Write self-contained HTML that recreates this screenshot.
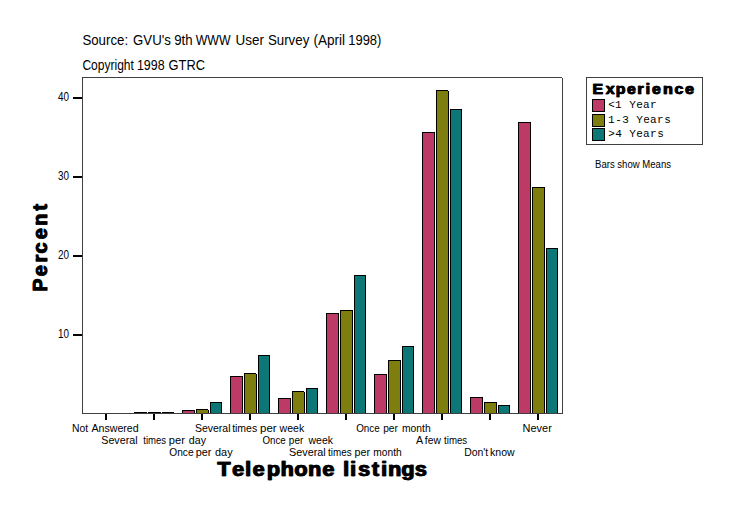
<!DOCTYPE html>
<html><head><meta charset="utf-8"><style>
html,body{margin:0;padding:0;background:#fff;}
svg{display:block;}
text{font-family:"Liberation Sans",sans-serif;fill:#000;}
.t{font-size:14px;}
.yl{font-size:12.5px;}
.xl{font-size:11px;}
.bt{font-family:"Liberation Sans",sans-serif;font-weight:bold;stroke:#000;stroke-width:0.9px;}
.mono{font-family:"Liberation Mono",monospace;font-size:11.5px;}
.ser{font-family:"Liberation Mono",monospace;font-size:11px;}
</style></head><body>
<svg width="736" height="516" viewBox="0 0 736 516" shape-rendering="crispEdges">
<rect width="736" height="516" fill="#fff"/>
<text x="82.40" y="45" class="t" textLength="45.71" lengthAdjust="spacingAndGlyphs">Source:</text><text x="133.03" y="45" class="t" textLength="37.84" lengthAdjust="spacingAndGlyphs">GVU&#39;s</text><text x="174.18" y="45" class="t" textLength="18.38" lengthAdjust="spacingAndGlyphs">9th</text><text x="195.75" y="45" class="t" textLength="34.80" lengthAdjust="spacingAndGlyphs">WWW</text><text x="235.56" y="45" class="t" textLength="28.46" lengthAdjust="spacingAndGlyphs">User</text><text x="267.90" y="45" class="t" textLength="41.43" lengthAdjust="spacingAndGlyphs">Survey</text><text x="313.46" y="45" class="t" textLength="31.54" lengthAdjust="spacingAndGlyphs">(April</text><text x="348.21" y="45" class="t" textLength="33.19" lengthAdjust="spacingAndGlyphs">1998)</text>
<text x="82.39" y="69.5" class="t" textLength="51.50" lengthAdjust="spacingAndGlyphs">Copyright</text><text x="136.95" y="69.5" class="t" textLength="27.69" lengthAdjust="spacingAndGlyphs">1998</text><text x="168.55" y="69.5" class="t" textLength="36.44" lengthAdjust="spacingAndGlyphs">GTRC</text>
<rect x="82" y="77" width="480" height="1" fill="#404040"/><rect x="82" y="77" width="1" height="337" fill="#404040"/><rect x="562" y="78" width="1" height="336" fill="#404040"/>
<rect x="134" y="412" width="13" height="2" fill="#000"/>
<rect x="148" y="412" width="13" height="2" fill="#000"/>
<rect x="162" y="412" width="12" height="2" fill="#000"/>
<rect x="182" y="410" width="13" height="4" fill="#000"/>
<rect x="183" y="411" width="11" height="2" fill="#bd3966"/>
<rect x="196" y="409" width="13" height="5" fill="#000"/>
<rect x="197" y="410" width="11" height="3" fill="#7e7e0f"/>
<rect x="208" y="409" width="1" height="1" fill="#fff"/>
<rect x="210" y="402" width="12" height="12" fill="#000"/>
<rect x="211" y="403" width="10" height="10" fill="#0c7776"/>
<rect x="230" y="376" width="13" height="38" fill="#000"/>
<rect x="231" y="377" width="11" height="36" fill="#bd3966"/>
<rect x="244" y="373" width="13" height="41" fill="#000"/>
<rect x="245" y="374" width="11" height="39" fill="#7e7e0f"/>
<rect x="256" y="373" width="1" height="1" fill="#fff"/>
<rect x="258" y="355" width="12" height="59" fill="#000"/>
<rect x="259" y="356" width="10" height="57" fill="#0c7776"/>
<rect x="278" y="398" width="13" height="16" fill="#000"/>
<rect x="279" y="399" width="11" height="14" fill="#bd3966"/>
<rect x="292" y="391" width="13" height="23" fill="#000"/>
<rect x="293" y="392" width="11" height="21" fill="#7e7e0f"/>
<rect x="304" y="391" width="1" height="1" fill="#fff"/>
<rect x="306" y="388" width="12" height="26" fill="#000"/>
<rect x="307" y="389" width="10" height="24" fill="#0c7776"/>
<rect x="326" y="313" width="13" height="101" fill="#000"/>
<rect x="327" y="314" width="11" height="99" fill="#bd3966"/>
<rect x="340" y="310" width="13" height="104" fill="#000"/>
<rect x="341" y="311" width="11" height="102" fill="#7e7e0f"/>
<rect x="354" y="275" width="12" height="139" fill="#000"/>
<rect x="355" y="276" width="10" height="137" fill="#0c7776"/>
<rect x="374" y="374" width="13" height="40" fill="#000"/>
<rect x="375" y="375" width="11" height="38" fill="#bd3966"/>
<rect x="388" y="360" width="13" height="54" fill="#000"/>
<rect x="389" y="361" width="11" height="52" fill="#7e7e0f"/>
<rect x="402" y="346" width="12" height="68" fill="#000"/>
<rect x="403" y="347" width="10" height="66" fill="#0c7776"/>
<rect x="422" y="132" width="13" height="282" fill="#000"/>
<rect x="423" y="133" width="11" height="280" fill="#bd3966"/>
<rect x="436" y="90" width="13" height="324" fill="#000"/>
<rect x="437" y="91" width="11" height="322" fill="#7e7e0f"/>
<rect x="448" y="90" width="1" height="1" fill="#fff"/>
<rect x="450" y="109" width="12" height="305" fill="#000"/>
<rect x="451" y="110" width="10" height="303" fill="#0c7776"/>
<rect x="470" y="397" width="13" height="17" fill="#000"/>
<rect x="471" y="398" width="11" height="15" fill="#bd3966"/>
<rect x="484" y="402" width="13" height="12" fill="#000"/>
<rect x="485" y="403" width="11" height="10" fill="#7e7e0f"/>
<rect x="498" y="405" width="12" height="9" fill="#000"/>
<rect x="499" y="406" width="10" height="7" fill="#0c7776"/>
<rect x="518" y="122" width="13" height="292" fill="#000"/>
<rect x="519" y="123" width="11" height="290" fill="#bd3966"/>
<rect x="532" y="187" width="13" height="227" fill="#000"/>
<rect x="533" y="188" width="11" height="225" fill="#7e7e0f"/>
<rect x="546" y="248" width="12" height="166" fill="#000"/>
<rect x="547" y="249" width="10" height="164" fill="#0c7776"/>
<rect x="82" y="413" width="481" height="1" fill="#404040"/>
<rect x="105" y="414" width="2" height="6" fill="#000"/>
<rect x="153" y="414" width="2" height="6" fill="#000"/>
<rect x="201" y="414" width="2" height="6" fill="#000"/>
<rect x="249" y="414" width="2" height="6" fill="#000"/>
<rect x="297" y="414" width="2" height="6" fill="#000"/>
<rect x="345" y="414" width="2" height="6" fill="#000"/>
<rect x="393" y="414" width="2" height="6" fill="#000"/>
<rect x="441" y="414" width="2" height="6" fill="#000"/>
<rect x="489" y="414" width="2" height="6" fill="#000"/>
<rect x="537" y="414" width="2" height="6" fill="#000"/>
<rect x="73" y="97" width="9" height="2" fill="#000"/>
<rect x="73" y="176" width="9" height="2" fill="#000"/>
<rect x="73" y="255" width="9" height="2" fill="#000"/>
<rect x="73" y="334" width="9" height="2" fill="#000"/>
<text x="58" y="101" class="yl" textLength="11" lengthAdjust="spacingAndGlyphs">40</text>
<text x="58" y="180" class="yl" textLength="11" lengthAdjust="spacingAndGlyphs">30</text>
<text x="58" y="259" class="yl" textLength="11" lengthAdjust="spacingAndGlyphs">20</text>
<text x="58" y="338" class="yl" textLength="11" lengthAdjust="spacingAndGlyphs">10</text>
<text x="72.05" y="432" class="xl" textLength="16.13" lengthAdjust="spacingAndGlyphs">Not</text><text x="91.38" y="432" class="xl" textLength="47.31" lengthAdjust="spacingAndGlyphs">Answered</text><text x="194.92" y="432" class="xl" textLength="35.58" lengthAdjust="spacingAndGlyphs">Several</text><text x="232.14" y="432" class="xl" textLength="25.04" lengthAdjust="spacingAndGlyphs">times</text><text x="260.01" y="432" class="xl" textLength="16.58" lengthAdjust="spacingAndGlyphs">per</text><text x="279.52" y="432" class="xl" textLength="24.67" lengthAdjust="spacingAndGlyphs">week</text><text x="356.23" y="432" class="xl" textLength="23.50" lengthAdjust="spacingAndGlyphs">Once</text><text x="383.14" y="432" class="xl" textLength="14.73" lengthAdjust="spacingAndGlyphs">per</text><text x="402.02" y="432" class="xl" textLength="28.65" lengthAdjust="spacingAndGlyphs">month</text><text x="522.60" y="432" class="xl" textLength="29.18" lengthAdjust="spacingAndGlyphs">Never</text><text x="101.32" y="444" class="xl" textLength="36.20" lengthAdjust="spacingAndGlyphs">Several</text><text x="143.26" y="444" class="xl" textLength="22.79" lengthAdjust="spacingAndGlyphs">times</text><text x="168.78" y="444" class="xl" textLength="16.10" lengthAdjust="spacingAndGlyphs">per</text><text x="188.85" y="444" class="xl" textLength="17.17" lengthAdjust="spacingAndGlyphs">day</text><text x="262.44" y="444" class="xl" textLength="23.19" lengthAdjust="spacingAndGlyphs">Once</text><text x="288.86" y="444" class="xl" textLength="14.41" lengthAdjust="spacingAndGlyphs">per</text><text x="308.52" y="444" class="xl" textLength="24.47" lengthAdjust="spacingAndGlyphs">week</text><text x="415.88" y="444" class="xl" textLength="7.14" lengthAdjust="spacingAndGlyphs">A</text><text x="424.85" y="444" class="xl" textLength="16.02" lengthAdjust="spacingAndGlyphs">few</text><text x="444.05" y="444" class="xl" textLength="23.10" lengthAdjust="spacingAndGlyphs">times</text><text x="169.32" y="456" class="xl" textLength="24.23" lengthAdjust="spacingAndGlyphs">Once</text><text x="195.70" y="456" class="xl" textLength="15.68" lengthAdjust="spacingAndGlyphs">per</text><text x="215.04" y="456" class="xl" textLength="17.58" lengthAdjust="spacingAndGlyphs">day</text><text x="289.11" y="456" class="xl" textLength="36.61" lengthAdjust="spacingAndGlyphs">Several</text><text x="328.05" y="456" class="xl" textLength="23.50" lengthAdjust="spacingAndGlyphs">times</text><text x="354.61" y="456" class="xl" textLength="15.57" lengthAdjust="spacingAndGlyphs">per</text><text x="373.32" y="456" class="xl" textLength="28.34" lengthAdjust="spacingAndGlyphs">month</text><text x="464.14" y="456" class="xl" textLength="24.03" lengthAdjust="spacingAndGlyphs">Don&#39;t</text><text x="490.09" y="456" class="xl" textLength="24.48" lengthAdjust="spacingAndGlyphs">know</text>
<g transform="translate(217,475.7) scale(1.08,1)"><text class="bt" style="stroke-width:0.5px" font-size="20" x="0.03 13.64 25.71 32.71 45.78 58.48 71.41 84.02 97.25 100.25 116.45 123.02 130.38 142.97 151.72 158.01 170.36 182.88" y="0">Telephone listings</text><text class="bt" style="stroke-width:0.5px" font-size="20" transform="translate(0.7,0)" x="0.03 13.64 25.71 32.71 45.78 58.48 71.41 84.02 97.25 100.25 116.45 123.02 130.38 142.97 151.72 158.01 170.36 182.88" y="0">Telephone listings</text></g>
<g transform="translate(46.6,291.5) rotate(-90)"><text class="bt" style="stroke-width:0.5px" font-size="19.5" x="-0.35 14.99 28.76 37.89 52.09 65.46 80.51" y="0">Percent</text><text class="bt" style="stroke-width:0.5px" font-size="19.5" transform="translate(0.7,0)" x="-0.35 14.99 28.76 37.89 52.09 65.46 80.51" y="0">Percent</text></g>
<rect x="586.5" y="77.5" width="116" height="67" fill="none" stroke="#404040" stroke-width="1"/>
<g transform="translate(593,93.7) scale(1.06,1)"><text class="bt" style="stroke-width:0.5px" font-size="15" x="-0.75 11.75 21.15 31.83 41.62 49.3 55.42 65.87 76.65 86.65" y="0">Experience</text><text class="bt" style="stroke-width:0.5px" font-size="15" transform="translate(0.6,0)" x="-0.75 11.75 21.15 31.83 41.62 49.3 55.42 65.87 76.65 86.65" y="0">Experience</text></g>
<rect x="592" y="99" width="13" height="13" fill="#000"/><rect x="593" y="100" width="11" height="11" fill="#bd3966"/>
<rect x="592" y="114" width="13" height="13" fill="#000"/><rect x="593" y="115" width="11" height="11" fill="#7e7e0f"/>
<rect x="592" y="128" width="13" height="13" fill="#000"/><rect x="593" y="129" width="11" height="11" fill="#0c7776"/>
<text class="ser" x="608.2 615.07 625.5 629.2 636.2 643.04 650.04" y="108">&lt;1 Year</text><text class="ser" x="608.07 615.2 622.2 632.5 636.2 643.2 650.04 657.04 664.2" y="122.8">1-3 Years</text><text class="ser" x="608.2 615.2 625.5 629.2 636.2 643.04 650.04 657.2" y="136.8">&gt;4 Years</text>
<text x="595" y="168" style="font-size:10px" textLength="76" lengthAdjust="spacingAndGlyphs">Bars show Means</text>
</svg>
</body></html>
